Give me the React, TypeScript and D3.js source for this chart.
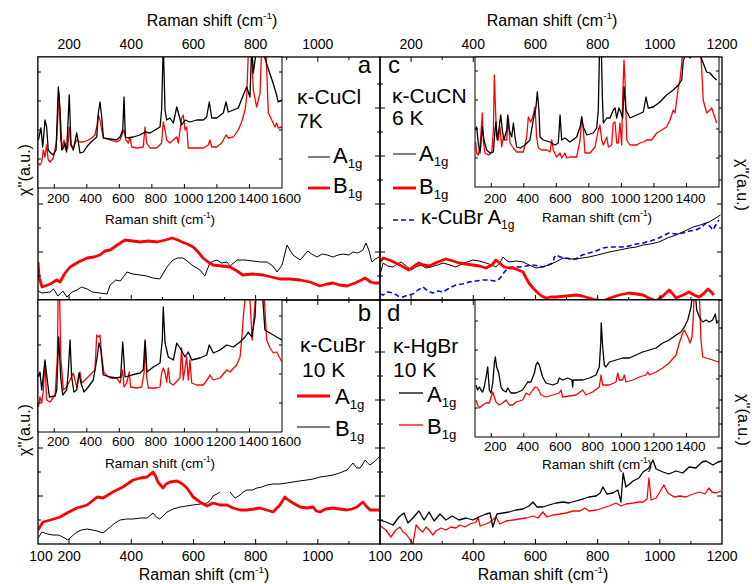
import React from "react";
import * as d3 from "d3";

type Pt = [number, number | null];

const FONT = "'Liberation Sans', Arial, Helvetica, sans-serif";
const RED = "#ff0000";
const BLUE = "#0000ff";

// axis tick labels
const topLabelsLeft = [200, 400, 600, 800, 1000];
const topLabelsRight = [200, 400, 600, 800, 1000, 1200];
const bottomLabelsLeft = [100, 200, 400, 600, 800, 1000];
const bottomLabelsRight = [100, 200, 400, 600, 800, 1000, 1200];
const insetLabelsLeft = [200, 400, 600, 800, 1000, 1200, 1400, 1600];
const insetLabelsRight = [200, 400, 600, 800, 1000, 1200, 1400];

// panel a : k-CuCl 7K (main, low energy)
const aA1gMain: Pt[] = [[100,0.9],[113,0.7],[139,0.8],[150,1.1],[164,0.4],[180,0.9],[193,0.3],[210,0.8],[225,1.0],[240,1.3],[258,1.1],[275,0.8],[299,0.7],[322,0.6],[332,1.5],[350,2.0],[365,1.9],[386,2.8],[405,2.6],[428,2.5],[450,2.4],[470,2.2],[492,2.1],[515,3.3],[534,4.0],[550,4.2],[566,4.2],[580,3.9],[595,3.5],[621,3.0],[637,2.4],[645,3.1],[653,3.7],[665,3.9],[676,4.0],[690,3.7],[708,3.8],[718,3.4],[740,4.0],[765,4.0],[792,3.9],[815,3.8],[837,3.8],[855,3.4],[869,2.8],[885,3.5],[901,5.5],[910,5.0],[920,4.5],[943,4.0],[968,4.9],[980,4.6],[997,4.3],[1015,4.6],[1030,4.5],[1049,4.3],[1065,4.5],[1081,4.6],[1100,4.5],[1113,4.8],[1129,4.7],[1145,5.0],[1155,5.7],[1165,4.9],[1174,3.8],[1185,4.1],[1197,4.3]];
const aB1gMain: Pt[] = [[100,3.8],[104,2.2],[113,1.3],[140,1.6],[160,2.0],[171,1.8],[185,2.6],[203,3.3],[230,3.8],[258,4.2],[280,4.3],[299,4.5],[315,4.9],[332,5.0],[355,5.5],[380,6.0],[405,5.9],[428,5.8],[455,5.9],[483,5.8],[510,6.0],[531,6.2],[550,6.0],[563,5.8],[580,5.6],[599,5.3],[615,4.8],[631,4.2],[647,3.8],[663,3.5],[690,3.4],[718,3.3],[740,2.9],[759,2.5],[790,2.6],[824,2.5],[850,2.3],[878,2.1],[910,2.1],[943,2.0],[975,1.8],[1007,1.4],[1030,1.6],[1049,1.7],[1070,1.5],[1094,1.4],[1120,1.7],[1140,2.0],[1152,2.2],[1170,1.8],[1184,1.7],[1200,1.7]];
// panel a inset
const aA1gInset: Pt[] = [[102,4.8],[118,6.0],[129,4.1],[143,6.8],[153,6.1],[163,3.8],[178,3.5],[194,3.3],[211,3.8],[225,10.1],[235,8.0],[246,3.8],[256,4.0],[266,4.5],[276,3.6],[292,9.3],[303,4.3],[317,3.8],[338,5.5],[348,4.6],[358,3.5],[379,3.6],[399,4.1],[420,4.5],[440,4.8],[461,5.1],[471,7.5],[481,8.6],[492,7.1],[502,5.0],[543,4.9],[584,4.8],[604,5.1],[621,5.8],[629,9.1],[637,5.1],[655,5.0],[686,5.1],[727,5.3],[758,5.6],[789,5.5],[819,5.8],[850,6.1],[860,7.8],[870,14.5],[881,7.8],[891,6.8],[911,7.0],[932,6.5],[953,8.1],[963,7.5],[983,6.3],[1004,6.8],[1034,6.6],[1076,6.8],[1116,6.8],[1137,7.1],[1153,8.6],[1168,7.0],[1199,7.0],[1239,7.5],[1256,8.6],[1270,7.6],[1301,7.8],[1331,8.0],[1362,9.3],[1383,10.1],[1403,9.1],[1414,14],[1424,11.5],[1444,14],[1465,14.5],[1485,13.5],[1514,12.0],[1545,10.5],[1567,9.3],[1577,8.6],[1600,8.8]];
const aB1gInset: Pt[] = [[102,2.5],[112,2.3],[123,2.6],[133,3.8],[143,3.1],[153,4.3],[163,2.8],[174,2.6],[194,3.0],[215,4.8],[229,9.5],[240,4.8],[250,4.1],[260,4.8],[270,3.8],[283,4.0],[292,6.1],[303,4.3],[317,4.0],[338,4.8],[358,4.6],[379,4.6],[409,4.8],[430,5.0],[450,5.3],[461,6.1],[471,7.3],[481,6.8],[492,5.8],[502,5.0],[543,4.8],[584,4.6],[604,4.8],[621,5.5],[629,5.8],[641,4.8],[655,4.5],[666,5.1],[676,4.1],[707,4.0],[747,4.1],[758,6.1],[768,4.5],[789,4.0],[830,4.0],[860,4.5],[870,6.6],[881,5.8],[891,4.8],[911,4.5],[953,5.1],[963,4.5],[983,7.0],[993,7.3],[1004,5.8],[1014,6.1],[1024,4.0],[1076,4.0],[1116,4.0],[1147,4.3],[1157,4.8],[1168,4.1],[1199,4.1],[1229,4.5],[1256,5.3],[1270,5.0],[1301,5.1],[1331,5.8],[1352,6.6],[1373,7.8],[1383,9.1],[1393,13.5],[1405,16],[1424,9.8],[1444,8.1],[1465,9.5],[1479,16],[1495,16],[1506,11.8],[1516,7.5],[1537,6.8],[1557,6.1],[1567,6.5],[1577,6.0],[1600,6.1]];

// panel b : k-CuBr 10 K
const bA1gMain: Pt[] = [[100,1.4],[116,2.2],[140,2.4],[171,2.7],[193,3.1],[225,3.6],[258,3.9],[290,4.7],[309,4.6],[341,5.2],[373,5.7],[406,6.4],[430,6.6],[451,6.7],[462,7.0],[470,7.2],[478,6.8],[486,6.2],[502,5.6],[512,6.0],[525,6.2],[547,6.3],[565,6.0],[579,5.6],[599,4.7],[621,4.2],[644,3.8],[663,4.1],[685,3.9],[708,3.9],[727,3.6],[750,3.4],[772,3.4],[795,3.5],[814,3.6],[835,3.4],[856,3.2],[878,3.9],[894,4.7],[905,4.4],[920,4.1],[943,3.7],[965,3.6],[985,3.7],[995,3.3],[1007,3.2],[1025,3.5],[1049,3.6],[1070,3.5],[1094,3.4],[1110,3.5],[1126,3.7],[1145,4.2],[1155,3.8],[1168,3.4],[1200,3.4]];
const bB1gMain: Pt[] = [[100,0.6],[113,1.2],[130,1.0],[148,0.9],[165,0.9],[180,0.7],[196,0.4],[210,0.8],[225,1.2],[240,1.4],[258,1.5],[275,1.4],[290,1.3],[309,1.1],[332,1.7],[348,2.1],[364,2.4],[385,2.5],[406,2.5],[430,2.6],[451,2.6],[470,3.1],[480,2.7],[492,2.5],[515,3.2],[535,3.5],[557,3.7],[578,3.8],[599,3.9],[622,4.0],[644,4.1],[655,4.4],[663,4.8],[675,5.0],[685,5.2],[700,null],[718,5.2],[725,4.9],[734,4.6],[750,4.9],[760,5.2],[772,5.4],[790,5.4],[804,5.6],[820,5.7],[837,5.9],[856,6.0],[878,6.0],[900,6.1],[920,6.2],[940,6.3],[965,6.4],[985,6.5],[1007,6.7],[1030,6.8],[1049,6.9],[1070,7.1],[1094,7.4],[1105,7.8],[1113,8.1],[1125,7.6],[1136,7.6],[1145,8.0],[1152,8.4],[1160,8.1],[1168,7.9],[1185,8.3],[1197,8.7]];
const bA1gInset: Pt[] = [[102,2.5],[112,3.5],[123,2.9],[133,4.2],[143,7.0],[153,3.2],[174,3.0],[205,3.7],[219,7.5],[225,15],[231,15],[240,7.5],[256,4.2],[276,4.5],[297,5.2],[317,5.9],[338,4.5],[358,6.0],[369,4.9],[389,5.2],[420,5.7],[450,6.2],[461,9.7],[475,9.5],[481,9.7],[492,7.5],[506,5.9],[543,5.4],[584,5.4],[604,4.9],[621,6.2],[629,4.5],[645,4.9],[661,6.0],[670,4.5],[707,4.4],[737,4.5],[752,5.9],[760,9.0],[768,5.5],[778,4.4],[830,4.4],[850,4.5],[860,5.9],[870,6.4],[881,5.9],[891,5.0],[901,6.4],[911,4.9],[932,4.7],[973,5.4],[983,8.4],[993,5.2],[1014,7.5],[1024,5.2],[1034,7.2],[1045,4.9],[1076,4.7],[1116,4.7],[1147,5.4],[1157,5.7],[1178,5.2],[1219,5.4],[1260,6.2],[1280,6.0],[1321,6.7],[1342,7.5],[1352,9.2],[1362,11.5],[1383,15],[1403,13.2],[1417,9.2],[1434,12.9],[1448,15],[1485,15],[1506,9.2],[1526,8.4],[1547,7.9],[1567,8.0],[1600,7.0]];
const bB1gInset: Pt[] = [[102,5.5],[112,6.0],[123,4.2],[143,7.2],[157,5.2],[170,3.5],[205,3.6],[215,4.2],[227,9.5],[240,5.4],[252,3.7],[276,4.2],[286,6.0],[297,9.2],[307,5.5],[321,4.0],[338,4.2],[352,5.9],[364,4.9],[383,4.0],[409,4.5],[440,5.2],[461,7.2],[475,8.9],[487,8.2],[501,5.7],[543,5.5],[584,5.4],[608,5.5],[621,9.0],[635,5.5],[676,5.7],[727,5.9],[747,6.2],[758,9.2],[770,6.0],[809,6.5],[850,6.9],[864,9.2],[870,12.5],[881,8.9],[901,7.5],[932,7.2],[953,8.9],[973,8.4],[1004,7.5],[1024,8.0],[1045,7.2],[1096,7.4],[1137,7.7],[1153,8.7],[1178,7.9],[1219,8.2],[1260,8.7],[1301,8.5],[1342,9.0],[1373,9.5],[1393,10.0],[1414,9.5],[1434,11.5],[1444,15],[1475,15],[1495,10.2],[1526,9.9],[1567,9.5],[1600,9.2]];

// panel c : k-CuCN 6 K
const cA1gMain: Pt[] = [[100,2.5],[110,3.7],[125,3.4],[142,3.3],[155,3.6],[168,3.8],[185,3.4],[200,3.0],[215,3.3],[232,3.5],[248,3.2],[264,3.3],[285,3.5],[303,3.7],[325,3.5],[344,3.3],[370,3.7],[399,4.0],[420,3.9],[441,3.7],[460,3.5],[473,3.3],[485,3.7],[496,4.3],[505,4.0],[515,3.8],[540,3.9],[560,3.8],[580,3.5],[602,3.2],[620,3.3],[644,3.5],[665,3.8],[689,4.2],[710,4.1],[730,4.1],[750,4.2],[772,4.3],[800,4.5],[837,4.8],[870,5.0],[901,5.2],[925,5.3],[946,5.5],[970,5.6],[997,5.8],[1025,6.2],[1052,6.5],[1080,6.9],[1107,7.3],[1130,7.5],[1158,7.8],[1175,8.1],[1195,8.5]];
const cB1gMain: Pt[] = [[100,3.8],[110,4.2],[130,4.0],[151,3.7],[170,3.4],[193,3.0],[210,3.4],[225,3.7],[240,3.5],[258,3.4],[285,3.8],[312,4.1],[335,3.9],[354,3.7],[375,3.6],[399,3.5],[420,3.4],[441,3.2],[460,3.5],[473,4.0],[485,3.7],[499,3.3],[515,3.2],[528,3.2],[545,3.0],[560,2.8],[570,2.2],[579,1.7],[595,1.1],[608,0.7],[620,0.4],[634,0.2],[650,0.3],[666,0.3],[700,0.4],[730,0.5],[750,0.4],[772,0.2],[795,0.0],[817,-0.1],[840,0.2],[869,0.5],[901,0.7],[925,0.6],[946,0.5],[965,0.2],[988,-0.1],[1010,0.4],[1030,1.0],[1042,0.6],[1052,0.2],[1075,0.5],[1094,0.8],[1110,0.5],[1126,0.3],[1140,0.6],[1155,1.1],[1165,0.8],[1174,0.5]];
const cCuBrMain: Pt[] = [[100,0.6],[110,0.5],[125,0.8],[142,0.7],[158,0.4],[174,0.3],[190,0.5],[206,0.6],[222,1.0],[238,1.3],[254,0.9],[270,0.7],[286,0.9],[303,0.8],[323,1.2],[344,1.5],[365,1.6],[386,1.8],[408,1.9],[431,2.0],[450,2.0],[467,1.9],[480,2.0],[489,2.3],[500,2.8],[512,3.2],[530,3.3],[547,3.3],[570,3.4],[592,3.5],[610,3.4],[624,3.3],[640,3.5],[656,3.7],[661,4.3],[666,4.5],[680,4.3],[698,4.2],[715,4.1],[730,4.1],[750,4.5],[772,4.7],[795,4.9],[817,5.2],[840,5.3],[859,5.3],[880,5.3],[901,5.4],[925,5.6],[946,5.7],[970,5.9],[997,6.2],[1015,6.5],[1030,6.7],[1052,6.6],[1075,6.7],[1095,6.9],[1116,7.0],[1135,7.3],[1149,7.7],[1160,7.4],[1171,7.0],[1180,7.5],[1190,8.0]];
const cA1gInset: Pt[] = [[104,5.7],[110,6.0],[120,4.4],[131,3.4],[145,6.0],[155,4.7],[172,3.7],[192,3.4],[213,3.5],[223,5.7],[229,6.5],[237,4.7],[249,6.0],[258,7.2],[268,5.7],[278,4.7],[295,5.7],[301,7.2],[311,5.7],[326,5.0],[336,6.4],[346,5.0],[356,4.0],[377,3.9],[407,4.2],[438,4.7],[458,6.7],[475,8.0],[483,9.5],[493,7.7],[500,5.0],[520,4.7],[561,4.5],[592,4.2],[612,4.4],[623,7.2],[633,4.7],[653,4.9],[684,4.5],[725,5.0],[746,6.0],[756,7.0],[766,6.0],[787,5.2],[827,5.4],[848,5.9],[858,7.7],[867,15],[875,15],[883,9.0],[889,6.4],[910,6.9],[930,6.9],[950,7.7],[961,7.9],[971,6.9],[985,7.9],[996,7.5],[1008,6.9],[1016,10.0],[1028,7.7],[1053,6.9],[1094,7.2],[1135,7.5],[1151,9.0],[1165,7.9],[1196,8.0],[1237,8.5],[1278,9.2],[1319,9.7],[1350,10.2],[1371,10.7],[1381,12.7],[1401,13.4],[1422,12.9],[1442,13.4],[1483,13.2],[1503,12.4],[1524,11.5],[1545,11.4],[1565,11.0],[1586,10.7]];
const cB1gInset: Pt[] = [[104,4.5],[110,3.4],[120,3.2],[131,4.0],[145,7.4],[151,4.7],[161,3.4],[182,3.2],[203,3.4],[213,5.7],[219,11.2],[227,7.4],[233,5.0],[243,4.7],[254,6.0],[264,4.0],[274,5.0],[284,4.7],[295,4.7],[305,7.0],[315,4.4],[336,3.9],[356,3.5],[397,3.5],[418,5.0],[428,7.0],[442,6.5],[455,7.0],[469,8.0],[479,5.0],[489,3.9],[510,3.7],[541,3.7],[561,3.5],[572,4.7],[581,3.7],[602,3.0],[623,3.4],[633,2.9],[653,3.4],[664,2.9],[684,3.0],[725,3.0],[746,4.7],[756,7.0],[766,5.7],[776,3.4],[807,3.4],[838,4.0],[858,5.7],[868,6.2],[879,4.7],[889,4.2],[910,5.0],[920,4.0],[940,4.2],[950,6.4],[961,6.5],[971,4.4],[981,4.4],[991,6.4],[1002,4.2],[1008,9.0],[1016,12.7],[1022,10.7],[1033,4.7],[1053,4.2],[1094,4.2],[1114,4.4],[1135,4.5],[1155,4.7],[1186,4.7],[1217,5.4],[1248,5.7],[1278,6.0],[1299,6.7],[1319,7.7],[1330,7.4],[1350,10.0],[1360,10.7],[1371,12.4],[1381,15],[1483,15],[1494,11.7],[1503,8.7],[1524,7.4],[1545,7.7],[1555,7.9],[1565,7.4],[1586,6.4]];

// panel d : k-HgBr 10 K
const dA1gMain: Pt[] = [[100,2.4],[119,2.2],[142,1.9],[161,2.7],[177,3.1],[190,2.1],[206,2.6],[225,3.3],[242,2.4],[258,3.2],[274,2.3],[293,3.0],[312,2.4],[332,2.8],[354,2.4],[377,2.6],[399,2.4],[418,2.7],[441,3.0],[454,3.1],[463,1.7],[476,3.0],[496,3.1],[515,3.2],[537,3.4],[560,3.5],[579,3.8],[592,4.2],[605,3.7],[624,3.7],[644,3.9],[666,4.1],[689,4.2],[708,4.1],[730,4.3],[753,4.5],[772,4.7],[795,4.8],[808,5.1],[817,5.7],[830,5.0],[849,5.1],[865,5.4],[875,4.2],[882,7.1],[891,5.7],[914,6.3],[933,6.6],[946,7.2],[965,7.6],[978,8.4],[988,7.5],[1010,7.2],[1029,7.0],[1052,7.3],[1074,7.1],[1094,7.7],[1116,7.6],[1136,8.2],[1148,8.3],[1171,7.9],[1187,8.2],[1200,8.3]];
const dB1gMain: Pt[] = [[100,1.9],[110,1.6],[119,1.4],[135,0.7],[151,1.4],[164,1.7],[174,1.2],[184,1.0],[193,0.6],[206,0.0],[216,1.9],[229,1.4],[238,1.2],[248,1.7],[258,1.4],[270,0.9],[280,1.3],[296,1.6],[312,1.4],[328,1.7],[344,1.6],[357,1.9],[373,1.7],[389,2.0],[409,2.2],[415,2.7],[422,1.8],[441,2.0],[454,2.2],[473,2.7],[486,2.0],[505,2.3],[528,2.4],[547,2.5],[570,2.6],[592,2.8],[608,2.6],[624,3.2],[637,2.7],[656,2.9],[679,3.0],[698,3.1],[721,3.3],[743,3.3],[759,3.6],[772,3.3],[795,3.4],[817,3.6],[837,3.8],[859,4.1],[875,3.8],[891,4.0],[914,4.1],[933,4.2],[946,4.2],[959,4.5],[965,6.6],[972,4.4],[988,4.6],[1000,5.2],[1013,5.9],[1026,5.1],[1046,4.7],[1065,4.8],[1084,4.7],[1107,5.0],[1129,5.2],[1145,5.0],[1158,5.6],[1168,5.2],[1181,5.1],[1197,5.3]];
const dA1gInset: Pt[] = [[106,5.7],[116,5.2],[127,5.5],[137,5.2],[147,5.0],[157,5.5],[168,6.5],[178,7.5],[188,5.2],[198,4.9],[209,5.9],[219,7.9],[225,8.5],[233,7.5],[246,6.9],[260,5.5],[270,5.2],[291,5.0],[301,5.4],[321,4.9],[352,4.9],[393,5.2],[424,6.0],[444,6.0],[465,6.9],[475,7.7],[485,8.0],[495,7.7],[516,6.5],[536,5.9],[578,5.7],[608,5.9],[618,6.4],[639,6.2],[670,6.4],[696,6.2],[700,5.5],[704,6.2],[762,6.2],[803,6.4],[844,6.7],[864,7.5],[873,9.9],[876,11.9],[885,9.5],[895,7.7],[905,7.5],[926,8.0],[967,8.2],[1008,8.4],[1049,8.4],[1090,8.7],[1131,9.0],[1172,9.2],[1213,9.4],[1254,9.9],[1294,10.2],[1336,10.7],[1366,11.0],[1387,11.5],[1408,12.2],[1428,13.5],[1438,15],[1454,15],[1463,13.2],[1479,12.5],[1500,12.0],[1520,12.2],[1540,12.0],[1561,12.2],[1577,12.8],[1586,11.9],[1598,12.0]];
const dB1gInset: Pt[] = [[106,4.2],[116,3.7],[127,3.4],[147,3.7],[168,3.9],[188,3.9],[209,5.0],[219,4.5],[229,4.0],[249,3.7],[270,3.9],[291,4.2],[311,3.7],[332,3.7],[352,4.0],[393,4.2],[414,4.9],[434,4.7],[455,5.2],[471,5.5],[485,5.4],[506,4.7],[536,4.5],[578,4.7],[618,4.9],[629,5.2],[639,4.5],[680,4.6],[721,4.7],[762,5.2],[782,4.7],[823,5.0],[864,5.5],[875,6.7],[885,5.7],[926,5.7],[967,6.0],[977,6.9],[987,6.2],[1008,6.2],[1018,6.7],[1028,6.0],[1069,6.2],[1110,6.5],[1151,6.7],[1162,7.0],[1172,6.7],[1213,7.0],[1254,7.4],[1294,7.9],[1336,8.7],[1356,9.9],[1377,10.9],[1387,11.2],[1408,10.5],[1422,9.9],[1434,10.5],[1442,12.5],[1448,15],[1479,15],[1489,10.2],[1500,8.5],[1520,8.4],[1561,8.2],[1598,8.0]];

// geometry
const LEFT = 38, MIDX = 380, RIGHT = 722, TOP = 57, MIDY = 300, BOTTOM = 544;

const xLeft = d3.scaleLinear().domain([100, 1200]).range([LEFT, MIDX]);
const xRight = d3.scaleLinear().domain([100, 1200]).range([MIDX, RIGHT]);
const yTop = d3.scaleLinear().domain([0, 24.3]).range([MIDY, TOP]);
const yBottom = d3.scaleLinear().domain([0, 24.4]).range([BOTTOM, MIDY]);

const xInsetLeft = d3.scaleLinear().domain([100, 1600]).range([38, 282]);
const xInsetRight = d3.scaleLinear().domain([100, 1600]).range([475, 719]);
const yInsetA = d3.scaleLinear().domain([0, 13.1]).range([188, 57]);
const yInsetB = d3.scaleLinear().domain([0, 13.2]).range([432, 300]);
const yInsetC = d3.scaleLinear().domain([0, 13.0]).range([187, 57]);
const yInsetD = d3.scaleLinear().domain([0.5, 14.2]).range([437, 300]);

type Scale = d3.ScaleLinear<number, number>;
type CurveSpec = { data: Pt[]; color: string; width: number; dash?: string };

function Curve({ c, x, y, clip }: { c: CurveSpec; x: Scale; y: Scale; clip: string }) {
  const line = d3
    .line<Pt>()
    .defined((d) => d[1] !== null)
    .x((d) => x(d[0]))
    .y((d) => y(d[1] as number));
  return (
    <path
      d={line(c.data) || ""}
      fill="none"
      stroke={c.color}
      strokeWidth={c.width}
      strokeDasharray={c.dash}
      strokeLinejoin="round"
      clipPath={`url(#${clip})`}
    />
  );
}

function RamanTitle({ x, y, size }: { x: number; y: number; size: number }) {
  return (
    <text x={x} y={y} fontSize={size} textAnchor="middle">
      Raman shift (cm
      <tspan dy={-size * 0.42} fontSize={size * 0.62}>-1</tspan>
      <tspan dy={size * 0.42}>)</tspan>
    </text>
  );
}

function Sym({ x, y, base, sub, size = 22 }: { x: number; y: number; base: string; sub: string; size?: number }) {
  return (
    <text x={x} y={y} fontSize={size}>
      {base}
      <tspan dy={5} fontSize={size * 0.6}>{sub}</tspan>
    </text>
  );
}

// frame with inward ticks on all four sides
function Frame({ x, y }: { x: Scale; y: Scale }) {
  const [x0, x1] = x.range();
  const [y1, y0] = y.range();
  const xt = x.ticks(11).filter((v) => x(v) > x0 + 1 && x(v) < x1 - 1);
  const yt = d3.range(y.domain()[0] + 2.4, y.domain()[1] - 0.5, 2.4);
  let d = "";
  xt.forEach((v) => {
    const len = v % 200 === 0 ? 5 : 3;
    d += `M${x(v)},${y1}v${-len}M${x(v)},${y0}v${len}`;
  });
  yt.forEach((v, i) => {
    const len = i % 2 === 1 ? 5 : 3;
    d += `M${x0},${y(v)}h${len}M${x1},${y(v)}h${-len}`;
  });
  return (
    <g>
      <path d={d} stroke="#000" strokeWidth={1} fill="none" />
      <rect x={x0} y={y0} width={x1 - x0} height={y1 - y0} fill="none" stroke="#000" strokeWidth={1.3} />
    </g>
  );
}

function Inset({
  id, x, y, curves, labels, labelY, titleY,
}: {
  id: string; x: Scale; y: Scale; curves: CurveSpec[]; labels: number[]; labelY: number; titleY: number;
}) {
  const [x0, x1] = x.range();
  const [y1, y0] = y.range();
  const yt = d3.range(y.domain()[0] + 2.9, y.domain()[1] - 0.3, 2.9);
  let d = "";
  d3.range(200, 1601, 200).forEach((v) => {
    if (x(v) < x1 - 1) d += `M${x(v)},${y1}v-4`;
  });
  yt.forEach((v) => {
    d += `M${x0},${y(v)}h3M${x1},${y(v)}h-3`;
  });
  return (
    <g>
      <clipPath id={id}>
        <rect x={x0} y={y0} width={x1 - x0} height={y1 - y0} />
      </clipPath>
      <rect x={x0} y={y0} width={x1 - x0} height={y1 - y0} fill="#fff" />
      {curves.map((c, i) => (
        <Curve key={i} c={c} x={x} y={y} clip={id} />
      ))}
      <path d={d} stroke="#000" strokeWidth={1} fill="none" />
      <rect x={x0} y={y0} width={x1 - x0} height={y1 - y0} fill="none" stroke="#000" strokeWidth={1} />
      {labels.map((v) => (
        <text key={v} x={x(v) + 4} y={labelY} fontSize={13.5} textAnchor="middle">
          {v}
        </text>
      ))}
      <RamanTitle x={(x0 + x1) / 2} y={titleY} size={13.5} />
    </g>
  );
}

function MainPanel({ id, x, y, curves }: { id: string; x: Scale; y: Scale; curves: CurveSpec[] }) {
  const [x0, x1] = x.range();
  const [y1, y0] = y.range();
  return (
    <g>
      <clipPath id={id}>
        <rect x={x0} y={y0} width={x1 - x0} height={y1 - y0} />
      </clipPath>
      {curves.map((c, i) => (
        <Curve key={i} c={c} x={x} y={y} clip={id} />
      ))}
    </g>
  );
}

const thinBlack = (data: Pt[]): CurveSpec => ({ data, color: "#000", width: 1 });
const thickRed = (data: Pt[]): CurveSpec => ({ data, color: RED, width: 2.8 });
const insetLine = (data: Pt[], color: string): CurveSpec => ({ data, color, width: 1.3 });

export default function App() {
  return (
    <svg
      width={752}
      height={584}
      style={{ display: "block", position: "absolute", left: 0, top: 0, fontFamily: FONT }}
      fontFamily={FONT}
    >
      <rect width={752} height={584} fill="#fff" />

      {/* main spectra */}
      <MainPanel id="clipA" x={xLeft} y={yTop} curves={[thinBlack(aA1gMain), thickRed(aB1gMain)]} />
      <MainPanel id="clipB" x={xLeft} y={yBottom} curves={[thinBlack(bB1gMain), thickRed(bA1gMain)]} />
      <MainPanel
        id="clipC"
        x={xRight}
        y={yTop}
        curves={[
          { data: cCuBrMain, color: BLUE, width: 1.6, dash: "5,3" },
          thinBlack(cA1gMain),
          thickRed(cB1gMain),
        ]}
      />
      <MainPanel
        id="clipD"
        x={xRight}
        y={yBottom}
        curves={[insetLine(dB1gMain, RED), insetLine(dA1gMain, "#000")]}
      />

      <Frame x={xLeft} y={yTop} />
      <Frame x={xLeft} y={yBottom} />
      <Frame x={xRight} y={yTop} />
      <Frame x={xRight} y={yBottom} />

      {/* insets */}
      <Inset id="insA" x={xInsetLeft} y={yInsetA} curves={[insetLine(aB1gInset, RED), insetLine(aA1gInset, "#000")]} labels={insetLabelsLeft} labelY={203} titleY={224} />
      <Inset id="insB" x={xInsetLeft} y={yInsetB} curves={[insetLine(bA1gInset, RED), insetLine(bB1gInset, "#000")]} labels={insetLabelsLeft} labelY={446} titleY={468} />
      <Inset id="insC" x={xInsetRight} y={yInsetC} curves={[insetLine(cB1gInset, RED), insetLine(cA1gInset, "#000")]} labels={insetLabelsRight} labelY={203} titleY={222} />
      <Inset id="insD" x={xInsetRight} y={yInsetD} curves={[insetLine(dB1gInset, RED), insetLine(dA1gInset, "#000")]} labels={insetLabelsRight} labelY={451} titleY={469} />

      {/* outer axes */}
      <g fontSize={14} textAnchor="middle">
        {topLabelsLeft.map((v) => (
          <text key={"tl" + v} x={xLeft(v)} y={49}>{v}</text>
        ))}
        {topLabelsRight.map((v) => (
          <text key={"tr" + v} x={xRight(v)} y={49}>{v}</text>
        ))}
        {bottomLabelsLeft.map((v) => (
          <text key={"bl" + v} x={v === 100 ? xLeft(v) + 3 : xLeft(v)} y={561}>{v}</text>
        ))}
        {bottomLabelsRight.map((v) => (
          <text key={"br" + v} x={xRight(v)} y={561}>{v}</text>
        ))}
      </g>
      <RamanTitle x={212} y={26} size={16} />
      <RamanTitle x={552} y={26} size={16} />
      <RamanTitle x={204} y={580} size={16} />
      <RamanTitle x={543} y={580} size={16} />

      <g fontSize={16} textAnchor="middle">
        <text transform="translate(30,170) rotate(-90)">χ''(a.u.)</text>
        <text transform="translate(30,430) rotate(-90)">χ''(a.u.)</text>
        <text transform="translate(737,185) rotate(90)">χ''(a.u.)</text>
        <text transform="translate(738,420) rotate(90)">χ''(a.u.)</text>
      </g>

      {/* panel a labels */}
      <text x={371} y={73} fontSize={24} textAnchor="end">a</text>
      <text x={297} y={104} fontSize={21}>κ-CuCl</text>
      <text x={297} y={128} fontSize={21}>7K</text>
      <line x1={308} x2={330} y1={157} y2={157} stroke="#000" strokeWidth={1} />
      <Sym x={333} y={163} base="A" sub="1g" />
      <line x1={308} x2={330} y1={188} y2={188} stroke={RED} strokeWidth={2.8} />
      <Sym x={333} y={193} base="B" sub="1g" />

      {/* panel b labels */}
      <text x={371} y={321} fontSize={24} textAnchor="end">b</text>
      <text x={300} y={352} fontSize={21}>κ-CuBr</text>
      <text x={302} y={377} fontSize={21}>10 K</text>
      <line x1={297} x2={330} y1={396} y2={396} stroke={RED} strokeWidth={2.8} />
      <Sym x={335} y={404} base="A" sub="1g" />
      <line x1={297} x2={330} y1={427} y2={427} stroke="#000" strokeWidth={1} />
      <Sym x={335} y={436} base="B" sub="1g" />

      {/* panel c labels */}
      <text x={388} y={73} fontSize={24}>c</text>
      <text x={392} y={103} fontSize={21}>κ-CuCN</text>
      <text x={392} y={125} fontSize={21}>6 K</text>
      <line x1={393} x2={416} y1={154} y2={154} stroke="#000" strokeWidth={1} />
      <Sym x={419} y={161} base="A" sub="1g" />
      <line x1={393} x2={416} y1={188} y2={188} stroke={RED} strokeWidth={2.8} />
      <Sym x={419} y={194} base="B" sub="1g" />
      <line x1={393} x2={416} y1={220} y2={220} stroke={BLUE} strokeWidth={1.6} strokeDasharray="5,3" />
      <Sym x={421} y={224} base="κ-CuBr A" sub="1g" size={20} />

      {/* panel d labels */}
      <text x={387} y={321} fontSize={24}>d</text>
      <text x={393} y={353} fontSize={21}>κ-HgBr</text>
      <text x={393} y={377} fontSize={21}>10 K</text>
      <line x1={399} x2={423} y1={393} y2={393} stroke="#000" strokeWidth={1.3} />
      <Sym x={427} y={402} base="A" sub="1g" />
      <line x1={399} x2={423} y1={425} y2={425} stroke={RED} strokeWidth={1.3} />
      <Sym x={427} y={434} base="B" sub="1g" />
    </svg>
  );
}
